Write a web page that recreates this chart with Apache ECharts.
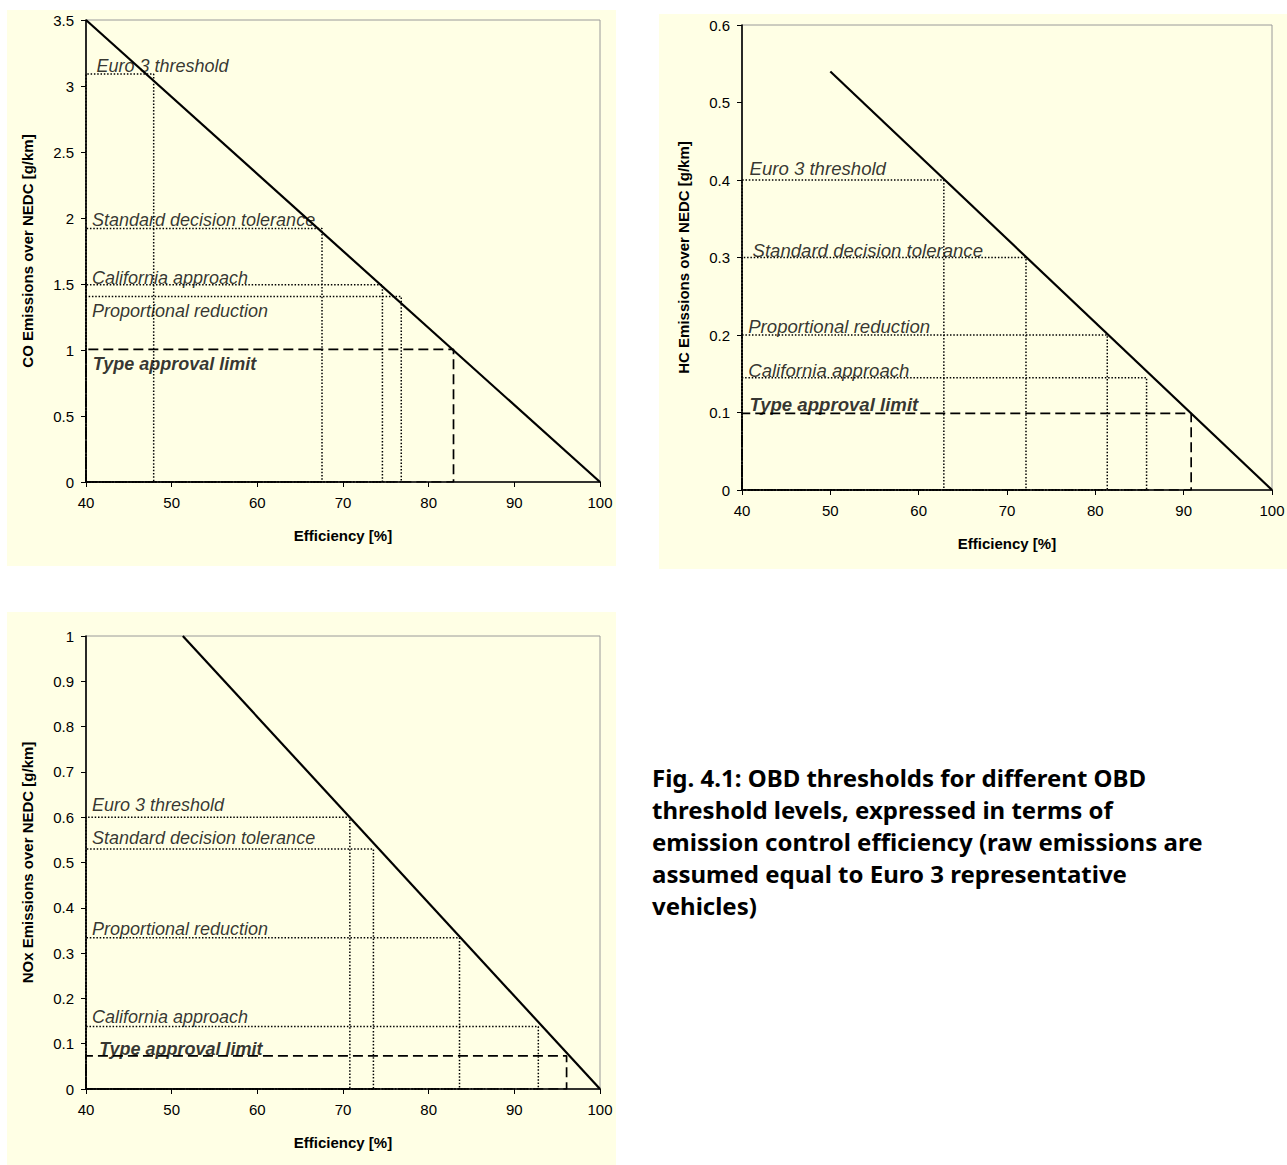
<!DOCTYPE html>
<html><head><meta charset="utf-8">
<script src="https://cdn.jsdelivr.net/npm/echarts@6/dist/echarts.min.js"></script>
<style>html,body{margin:0;padding:0;background:#fff}#c{width:1287px;height:1165px}</style>
</head><body><div id="c"></div>
<script>
// ---------- data ----------
const effMin = 40, effMax = 100, effStep = 10;

// CO
const coLineX = [40, 100];
const coLineY = [3.5, 0];
const coNames = ['Euro 3 threshold', 'Standard decision tolerance', 'California approach', 'Proportional reduction', 'Type approval limit'];
const coLevelY = [3.09, 1.92, 1.495, 1.405, 1.005];
const coLevelX = [47.9, 67.55, 74.6, 76.8, 82.9];
const coYMax = 3.5, coYStep = 0.5;

// HC
const hcLineX = [50, 100];
const hcLineY = [0.54, 0];
const hcNames = ['Euro 3 threshold', 'Standard decision tolerance', 'Proportional reduction', 'California approach', 'Type approval limit'];
const hcLevelY = [0.4, 0.3, 0.2, 0.145, 0.099];
const hcLevelX = [62.85, 72.15, 81.35, 85.8, 90.85];
const hcYMax = 0.6, hcYStep = 0.1;

// NOx
const noxLineX = [51.3, 100];
const noxLineY = [1, 0];
const noxNames = ['Euro 3 threshold', 'Standard decision tolerance', 'Proportional reduction', 'California approach', 'Type approval limit'];
const noxLevelY = [0.6, 0.53, 0.334, 0.138, 0.073];
const noxLevelX = [70.8, 73.55, 83.6, 92.8, 96.1];
const noxYMax = 1, noxYStep = 0.1;

const yTitles = ['CO Emissions over NEDC [g/km]', 'HC Emissions over NEDC [g/km]', 'NOx Emissions over NEDC [g/km]'];
const xTitle = 'Efficiency [%]';
const captionLines = [
  'Fig. 4.1: OBD thresholds for different OBD',
  'threshold levels, expressed in terms of',
  'emission control efficiency (raw emissions are',
  'assumed equal to Euro 3 representative',
  'vehicles)'
];

// ---------- style / layout ----------
const FONT = '"Liberation Sans", Arial, sans-serif';
const panels = [[7, 10, 609, 556], [659, 14, 628, 555], [7, 612, 609, 553]];
const grids = [
  {left: 86, top: 20, width: 514, height: 462},
  {left: 742, top: 25, width: 530, height: 465},
  {left: 86, top: 636, width: 514, height: 453}
];
const labelOffsets = [
  [[10, -8.5], [5.5, -8.5], [5.5, -7], [5.5, 14], [6.3, 14.5]],
  [[7, -12], [10, -7.3], [5.7, -8.4], [5.7, -7.3], [7, -8.4]],
  [[5.5, -12.6], [5.5, -11.2], [5.5, -9], [5.5, -9.7], [12.7, -6.5]]
];
const labelSizes = [18, 18.6, 18];

function buildSeries(gi, lx, ly, names, levY, levX) {
  const out = [];
  out.push({
    type: 'line', xAxisIndex: gi, yAxisIndex: gi, symbol: 'none', silent: true, z: 5,
    data: lx.map((x, i) => [x, ly[i]]),
    lineStyle: {color: '#000', width: 2.2}
  });
  names.forEach((n, i) => {
    const ta = n === 'Type approval limit';
    out.push({
      type: 'line', xAxisIndex: gi, yAxisIndex: gi, symbol: 'none', silent: true, z: 3,
      data: [[effMin, 0], [effMin, levY[i]], [levX[i], levY[i]], [levX[i], 0], [effMin, 0]],
      lineStyle: ta ? {color: '#000', width: 1.7, type: [10, 5]} : {color: '#000', width: 1.5, type: [1.5, 1.8]}
    });
  });
  out.push({
    type: 'scatter', xAxisIndex: gi, yAxisIndex: gi, symbolSize: 1, silent: true, z: 6,
    itemStyle: {color: 'rgba(0,0,0,0)'},
    data: names.map((n, i) => ({
      value: [effMin, levY[i]], name: n,
      label: {
        show: true, position: 'right', distance: 0,
        offset: labelOffsets[gi][i],
        formatter: n, color: '#000', fontFamily: FONT,
        fontSize: labelSizes[gi], fontStyle: 'italic',
        fontWeight: n === 'Type approval limit' ? 'bold' : 'normal'
      }
    }))
  });
  return out;
}

function xAxis(gi) {
  return {
    type: 'value', gridIndex: gi, min: effMin, max: effMax, interval: effStep,
    axisLine: {show: true, onZero: false, lineStyle: {color: '#000', width: 1.6}},
    axisTick: {show: true, length: 5, lineStyle: {color: '#000'}},
    axisLabel: {color: '#000', fontSize: 15, fontFamily: FONT, margin: 13},
    splitLine: {show: false},
    name: xTitle, nameLocation: 'middle', nameGap: 46,
    nameTextStyle: {color: '#000', fontSize: 15, fontWeight: 'bold', fontFamily: FONT}
  };
}
function yAxis(gi, max, step) {
  return {
    type: 'value', gridIndex: gi, min: 0, max: max, interval: step,
    axisLine: {show: true, onZero: false, lineStyle: {color: '#000', width: 1.6}},
    axisTick: {show: true, length: 5, lineStyle: {color: '#000'}},
    axisLabel: {color: '#000', fontSize: 15, fontFamily: FONT, margin: 12},
    splitLine: {show: false},
    name: yTitles[gi], nameLocation: 'middle', nameGap: 51,
    nameTextStyle: {color: '#000', fontSize: 15, fontWeight: 'bold', fontFamily: FONT}
  };
}

// caption font fitting
const capFamily = '"Noto Sans", sans-serif';
const mctx = document.createElement('canvas').getContext('2d');
mctx.font = 'bold 100px ' + capFamily;
const capW = mctx.measureText(captionLines[2]).width;
const capSize = Math.max(14, Math.min(24, 100 * 618 / capW));

const chart = echarts.init(document.getElementById('c'), null, {renderer: 'svg'});
chart.setOption({
  animation: false,
  backgroundColor: '#fff',
  grid: grids.map(g => Object.assign({}, g, {
    show: true, borderColor: '#9a9a9a', borderWidth: 1, backgroundColor: 'transparent',
    containLabel: false, outerBoundsMode: 'none'
  })),
  xAxis: [xAxis(0), xAxis(1), xAxis(2)],
  yAxis: [yAxis(0, coYMax, coYStep), yAxis(1, hcYMax, hcYStep), yAxis(2, noxYMax, noxYStep)],
  series: [].concat(
    buildSeries(0, coLineX, coLineY, coNames, coLevelY, coLevelX),
    buildSeries(1, hcLineX, hcLineY, hcNames, hcLevelY, hcLevelX),
    buildSeries(2, noxLineX, noxLineY, noxNames, noxLevelY, noxLevelX)
  ),
  graphic: {
    elements: panels.map(p => ({
      type: 'rect', z: -100, silent: true,
      shape: {x: p[0], y: p[1], width: p[2], height: p[3]},
      style: {fill: '#FFFFE5'}
    })).concat([{
      type: 'text', z: 10, silent: true, x: 652, y: 762,
      style: {
        text: captionLines.join('\n'), fill: '#000',
        fontFamily: capFamily, fontWeight: 'bold', fontSize: capSize,
        lineHeight: 31.8, verticalAlign: 'top', align: 'left'
      }
    }])
  }
});
</script></body></html>
